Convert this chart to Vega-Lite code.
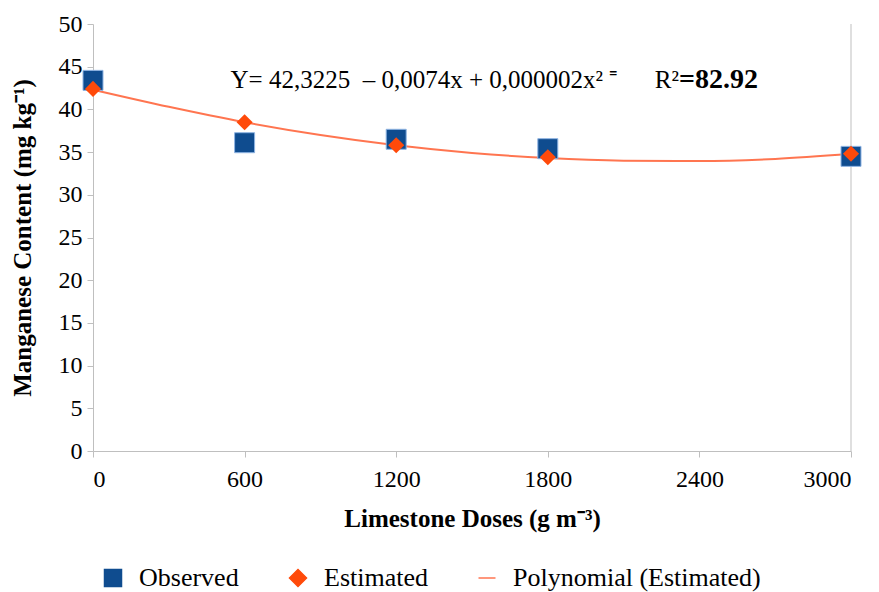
{
  "$schema": "https://vega.github.io/schema/vega-lite/v6.json",
  "width": 758,
  "height": 427,
  "autosize": {"type": "none"},
  "padding": {"left": 93, "top": 24, "right": 28, "bottom": 141},
  "background": "white",
  "config": {
    "view": {"stroke": null},
    "font": "Liberation Serif",
    "axis": {
      "domainColor": "#BFBFBF",
      "tickColor": "#BFBFBF",
      "labelColor": "black",
      "titleColor": "black",
      "labelFont": "Liberation Serif",
      "titleFont": "Liberation Serif",
      "labelFontSize": 24,
      "titleFontSize": 25,
      "titleFontWeight": "bold",
      "grid": false,
      "tickSize": 6
    }
  },
  "datasets": {
    "points": [
      {"dose": 0, "value": 43.4, "series": "Observed"},
      {"dose": 600, "value": 36.1, "series": "Observed"},
      {"dose": 1200, "value": 36.5, "series": "Observed"},
      {"dose": 1800, "value": 35.4, "series": "Observed"},
      {"dose": 3000, "value": 34.5, "series": "Observed"},
      {"dose": 0, "value": 42.4, "series": "Estimated"},
      {"dose": 600, "value": 38.5, "series": "Estimated"},
      {"dose": 1200, "value": 35.8, "series": "Estimated"},
      {"dose": 1800, "value": 34.4, "series": "Estimated"},
      {"dose": 3000, "value": 34.8, "series": "Estimated"}
    ],
    "curve": [
      {"dose": 0, "value": 42.3, "series": "Polynomial  (Estimated)"},
      {"dose": 300, "value": 40.3, "series": "Polynomial  (Estimated)"},
      {"dose": 600, "value": 38.5, "series": "Polynomial  (Estimated)"},
      {"dose": 900, "value": 37.0, "series": "Polynomial  (Estimated)"},
      {"dose": 1200, "value": 35.8, "series": "Polynomial  (Estimated)"},
      {"dose": 1500, "value": 34.9, "series": "Polynomial  (Estimated)"},
      {"dose": 1800, "value": 34.3, "series": "Polynomial  (Estimated)"},
      {"dose": 2100, "value": 34.0, "series": "Polynomial  (Estimated)"},
      {"dose": 2400, "value": 33.95, "series": "Polynomial  (Estimated)"},
      {"dose": 2700, "value": 34.2, "series": "Polynomial  (Estimated)"},
      {"dose": 3000, "value": 34.8, "series": "Polynomial  (Estimated)"}
    ],
    "note": [{"label": "equation"}]
  },
  "layer": [
    {
      "data": {"name": "note"},
      "mark": {"type": "rule", "color": "#BFBFBF"},
      "encoding": {"x": {"datum": 3000, "type": "quantitative"}}
    },
    {
      "data": {"name": "curve"},
      "mark": {"type": "line", "interpolate": "monotone", "strokeWidth": 2},
      "encoding": {
        "x": {"field": "dose", "type": "quantitative"},
        "y": {"field": "value", "type": "quantitative"},
        "color": {"field": "series", "type": "nominal"}
      }
    },
    {
      "data": {"name": "points"},
      "transform": [{"filter": "datum.series == 'Observed'"}],
      "mark": {"type": "point", "filled": true, "opacity": 1, "size": 400, "stroke": "#8FB4E3", "strokeWidth": 1},
      "encoding": {
        "x": {"field": "dose", "type": "quantitative"},
        "y": {"field": "value", "type": "quantitative"},
        "color": {"field": "series", "type": "nominal"},
        "shape": {"field": "series", "type": "nominal"}
      }
    },
    {
      "data": {"name": "points"},
      "transform": [{"filter": "datum.series == 'Estimated'"}],
      "mark": {"type": "point", "filled": true, "opacity": 1, "size": 260},
      "encoding": {
        "x": {
          "field": "dose", "type": "quantitative",
          "scale": {"domain": [0, 3000], "nice": false},
          "axis": {"values": [0, 600, 1200, 1800, 2400, 3000], "format": "d", "title": "Limestone Doses (g m⁻³)", "labelPadding": 10, "titlePadding": 15}
        },
        "y": {
          "field": "value", "type": "quantitative",
          "scale": {"domain": [0, 50], "nice": false},
          "axis": {"values": [0, 5, 10, 15, 20, 25, 30, 35, 40, 45, 50], "title": "Manganese Content (mg kg⁻¹)", "labelPadding": 5, "titlePadding": 23}
        },
        "color": {
          "field": "series", "type": "nominal",
          "scale": {
            "domain": ["Observed", "Estimated", "Polynomial  (Estimated)"],
            "range": ["#0F4C8F", "#FF4A0A", "#FF7550"]
          },
          "legend": {
            "title": null,
            "orient": "none",
            "direction": "horizontal",
            "legendX": 7,
            "legendY": 541,
            "labelFont": "Liberation Serif",
            "labelFontSize": 26,
            "labelColor": "black",
            "labelLimit": 400,
            "symbolSize": 289,
            "columnPadding": 46,
            "labelOffset": 13,
            "encode": {"symbols": {"update": {"stroke": {"scale": "color", "field": "value"}, "strokeWidth": {"value": 2}}}}
          }
        },
        "shape": {
          "field": "series", "type": "nominal",
          "scale": {
            "domain": ["Observed", "Estimated", "Polynomial  (Estimated)"],
            "range": ["square", "diamond", "stroke"]
          }
        }
      }
    },
    {
      "data": {"name": "note"},
      "mark": {"type": "text", "align": "right", "baseline": "middle", "fontSize": 25, "color": "black"},
      "encoding": {
        "x": {"datum": 2319, "type": "quantitative"},
        "y": {"datum": 43.4, "type": "quantitative"},
        "text": {"value": "Y= 42,3225\u2002– 0,0074x + 0,000002x² ⁼\u2003\u2002R²"}
      }
    },
    {
      "data": {"name": "note"},
      "mark": {"type": "text", "align": "left", "baseline": "middle", "fontSize": 28, "fontWeight": "bold", "color": "black"},
      "encoding": {
        "x": {"datum": 2319, "type": "quantitative"},
        "y": {"datum": 43.4, "type": "quantitative"},
        "text": {"value": "=82.92"}
      }
    }
  ]
}
